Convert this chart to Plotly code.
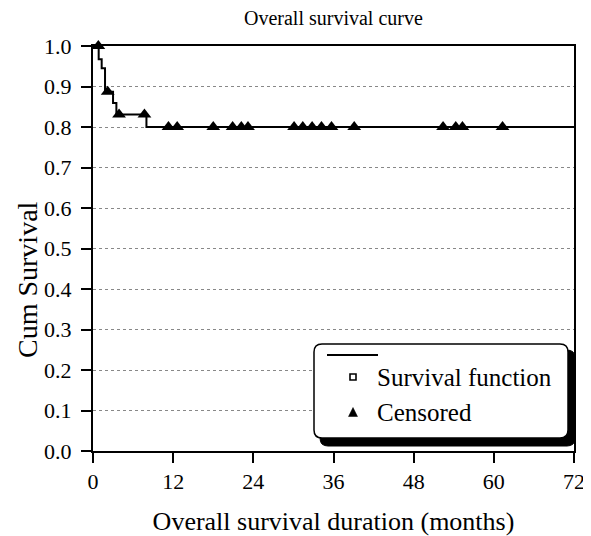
import plotly.graph_objects as go

# Step curve (Kaplan-Meier estimate)
step_months = [0, 0.85, 1.3, 1.8, 3.0, 3.5, 8.0, 72]
step_survival = [1.0, 0.967, 0.945, 0.887, 0.859, 0.831, 0.80, 0.80]

# Censored observations
censored_months = [0.8, 2.2, 3.9, 7.7, 11.3, 12.6, 18.0, 20.9, 22.2, 23.2,
                   30.1, 31.4, 32.8, 34.2, 35.7, 39.1, 52.4, 54.3, 55.3, 61.3]
censored_survival = [1.0, 0.887, 0.831, 0.831, 0.80, 0.80, 0.80, 0.80, 0.80, 0.80,
                     0.80, 0.80, 0.80, 0.80, 0.80, 0.80, 0.80, 0.80, 0.80, 0.80]

x_ticks = [0, 12, 24, 36, 48, 60, 72]
y_ticks = [0.0, 0.1, 0.2, 0.3, 0.4, 0.5, 0.6, 0.7, 0.8, 0.9, 1.0]
legend_labels = ["Survival function", "Censored"]

FONT = "Liberation Serif"
# the page body adds an 8px offset, so the figure is 8px smaller
OFF = 8
W, H = 591 - OFF, 536 - OFF
# plot area in screen pixels: x 93..574, y 46..451
L, R, T, B = 93 - OFF, 591 - 574, 46 - OFF, 536 - 451
PW, PH = W - L - R, H - T - B

def px(x):  # screen x -> paper
    return (x - OFF - L) / PW

def py(y):  # screen y -> paper
    return (H - B - (y - OFF)) / PH

fig = go.Figure()
fig.add_trace(go.Scatter(x=step_months, y=step_survival, mode="lines",
                         line=dict(color="black", width=2, shape="hv"),
                         showlegend=False, hoverinfo="skip", cliponaxis=False))
fig.add_trace(go.Scatter(x=censored_months, y=censored_survival, mode="markers",
                         marker=dict(symbol="triangle-up", size=12, color="black"),
                         showlegend=False, cliponaxis=False))

# Legend drawn by hand (rounded box with shadow)
def rounded(x0, y0, x1, y1, r):
    rx = r / PW
    ry = r / PH
    X0, X1 = px(x0), px(x1)
    Y0, Y1 = py(y0), py(y1)  # Y0 top, Y1 bottom
    return (f"M {X0+rx},{Y0} L {X1-rx},{Y0} Q {X1},{Y0} {X1},{Y0-ry} "
            f"L {X1},{Y1+ry} Q {X1},{Y1} {X1-rx},{Y1} L {X0+rx},{Y1} "
            f"Q {X0},{Y1} {X0},{Y1+ry} L {X0},{Y0-ry} Q {X0},{Y0} {X0+rx},{Y0} Z")

shapes = []
shapes.append(dict(type="path", xref="paper", yref="paper", layer="above",
                   path=rounded(320, 350, 575, 446, 8),
                   fillcolor="black", line=dict(color="black", width=1)))
shapes.append(dict(type="path", xref="paper", yref="paper", layer="above",
                   path=rounded(314, 344, 568, 438, 8),
                   fillcolor="white", line=dict(color="black", width=1.5)))
shapes.append(dict(type="line", xref="paper", yref="paper", layer="above",
                   x0=px(327), x1=px(378), y0=py(355), y1=py(355),
                   line=dict(color="black", width=2)))
shapes.append(dict(type="rect", xref="paper", yref="paper", layer="above",
                   x0=px(350), x1=px(356), y0=py(380), y1=py(374),
                   fillcolor="white", line=dict(color="black", width=1.6)))
tri = (f"M {px(348.5)},{py(416.5)} L {px(357.5)},{py(416.5)} "
       f"L {px(353)},{py(407.5)} Z")
shapes.append(dict(type="path", xref="paper", yref="paper", layer="above",
                   path=tri, fillcolor="black", line=dict(color="black", width=0.5)))

annotations = [
    dict(text=legend_labels[0], xref="paper", yref="paper", x=px(375), y=py(377),
         xanchor="left", yanchor="middle", showarrow=False,
         font=dict(family=FONT, size=25, color="black")),
    dict(text=legend_labels[1], xref="paper", yref="paper", x=px(375), y=py(412),
         xanchor="left", yanchor="middle", showarrow=False,
         font=dict(family=FONT, size=25, color="black")),
    dict(text="Overall survival curve", xref="paper", yref="paper",
         x=px(333), y=py(18), xanchor="center", yanchor="middle", showarrow=False,
         font=dict(family=FONT, size=20, color="black")),
    dict(text="Cum Survival", xref="paper", yref="paper", textangle=-90,
         x=px(27), y=py(280), xanchor="center", yanchor="middle", showarrow=False,
         font=dict(family=FONT, size=28, color="black")),
]

fig.update_layout(
    width=W, height=H,
    margin=dict(l=L, r=R, t=T, b=B, autoexpand=False),
    plot_bgcolor="white", paper_bgcolor="white",
    font=dict(family=FONT, size=22, color="black"),
    shapes=shapes, annotations=annotations,
    showlegend=False,
)
fig.update_xaxes(range=[0, 72], tickvals=x_ticks, ticktext=[str(v) for v in x_ticks],
                 showgrid=False, zeroline=False, showline=True, linecolor="black",
                 linewidth=2, mirror=True, ticks="outside", ticklen=10, tickwidth=2,
                 tickcolor="black", automargin=False,
                 tickfont=dict(family=FONT, size=22),
                 title=dict(text="Overall survival duration (months)", standoff=18,
                            font=dict(family=FONT, size=26)))
fig.update_yaxes(range=[0, 1.0], tickvals=y_ticks, ticktext=[f"{v:.1f}" for v in y_ticks],
                 showgrid=True, gridcolor="#888888", griddash="dot", gridwidth=1,
                 zeroline=False, showline=True, linecolor="black",
                 linewidth=2, mirror=True, ticks="outside", ticklen=10, tickwidth=2,
                 tickcolor="black", automargin=False, ticklabelstandoff=5,
                 tickfont=dict(family=FONT, size=22))

fig.write_html("out.html")
